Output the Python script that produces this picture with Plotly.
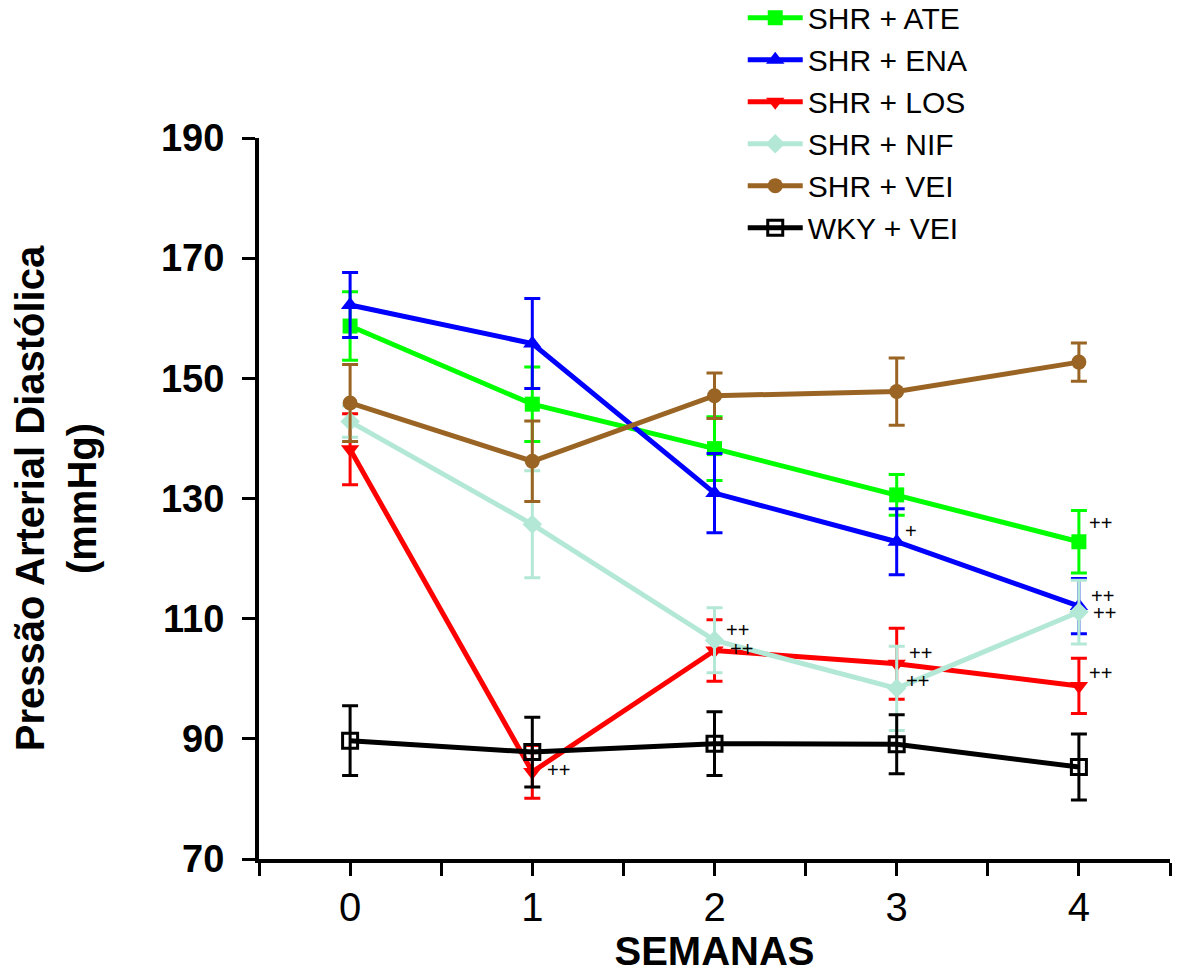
import plotly.graph_objects as go

weeks = [0, 1, 2, 3, 4]

series_names = ["SHR + ATE", "SHR + ENA", "SHR + LOS", "SHR + NIF", "SHR + VEI", "WKY + VEI"]

ate_mean = [158.7, 145.7, 138.3, 130.6, 122.8]
ate_err = [5.7, 6.2, 5.3, 3.4, 5.2]

ena_mean = [162.2, 155.8, 130.9, 122.8, 112.1]
ena_err = [5.4, 7.5, 6.6, 5.5, 4.6]

los_mean = [138.2, 84.5, 104.7, 102.5, 98.8]
los_err = [5.9, 4.4, 5.1, 5.9, 4.6]

nif_mean = [142.8, 125.7, 106.4, 98.4, 111.1]
nif_err = [2.6, 8.9, 5.4, 7.0, 5.3]

vei_mean = [145.9, 136.2, 147.1, 147.8, 152.7]
vei_err = [6.4, 6.7, 3.8, 5.6, 3.2]

wky_mean = [89.7, 87.8, 89.2, 89.1, 85.3]
wky_err = [5.8, 5.8, 5.3, 4.9, 5.5]

y_ticks = [70, 90, 110, 130, 150, 170, 190]
x_tickvals = [-0.5, 0, 0.5, 1, 1.5, 2, 2.5, 3, 3.5, 4, 4.5]
x_ticktext = ["", "0", "", "1", "", "2", "", "3", "", "4", ""]

# significance marks: (week, y value, text)
sig_marks = [
    (4, 126.0, "++"),
    (4, 113.7, "++"),
    (4, 111.0, "++"),
    (4, 100.9, "++"),
    (2, 108.1, "++"),
    (2, 105.0, "++"),
    (3, 104.3, "++"),
    (3, 99.7, "++"),
    (3, 124.6, "+"),
    (1, 84.8, "++"),
]
sig_shift = [8, 10, 12, 8, 9, 13, 10, 7, 6, 13]

styles = [
    dict(color="#00FF00", symbol="square", size=15, lw=5),
    dict(color="#0000FF", symbol="triangle-up", size=16, lw=5),
    dict(color="#FF0000", symbol="triangle-down", size=16, lw=5),
    dict(color="#B4E8D6", symbol="diamond", size=15, lw=5),
    dict(color="#9A6524", symbol="circle", size=15, lw=5),
    dict(color="#000000", symbol="square-open", size=15, lw=5),
]

means = [ate_mean, ena_mean, los_mean, nif_mean, vei_mean, wky_mean]
errs = [ate_err, ena_err, los_err, nif_err, vei_err, wky_err]

fig = go.Figure()
for name, m, e, st in zip(series_names, means, errs, styles):
    marker = dict(symbol=st["symbol"], size=st["size"], color=st["color"])
    if st["symbol"] == "square-open":
        marker["line"] = dict(color=st["color"], width=3)
    fig.add_trace(go.Scatter(
        x=weeks, y=m, name=name, mode="lines+markers",
        line=dict(color=st["color"], width=st["lw"]),
        marker=marker,
        error_y=dict(type="data", array=e, visible=True, color=st["color"],
                     thickness=3, width=8),
    ))

for (wx, wy, txt), dx in zip(sig_marks, sig_shift):
    fig.add_annotation(x=wx, y=wy, text=txt, showarrow=False, xanchor="left",
                       yanchor="middle", xshift=dx,
                       font=dict(family="Liberation Sans, Arial", size=20, color="black"))

fig.update_layout(
    width=1177, height=975,
    margin=dict(l=259, r=7, t=138, b=116, autoexpand=False),
    plot_bgcolor="white", paper_bgcolor="white",
    font=dict(family="Liberation Sans, Arial", color="black"),
    showlegend=True,
    legend=dict(x=0.531, y=1.203, xanchor="left", yanchor="top",
                font=dict(size=30, family="Liberation Sans, Arial", color="black"),
                bgcolor="rgba(0,0,0,0)", itemwidth=55),
    xaxis=dict(range=[-0.5, 4.5], tickmode="array", tickvals=x_tickvals,
               ticktext=x_ticktext, showgrid=False, zeroline=False, automargin=False,
               showline=True, linecolor="black", linewidth=4,
               ticks="outside", ticklen=13, tickwidth=3, tickcolor="black",
               ticklabelstandoff=-3,
               tickfont=dict(family="Liberation Sans Narrow, Arial Narrow, Liberation Sans", size=40),
               title=dict(text="<b>SEMANAS</b>", standoff=10,
                          font=dict(family="Liberation Sans Narrow, Arial Narrow, Liberation Sans", size=40))),
    yaxis=dict(range=[70, 190], tickmode="array", tickvals=y_ticks,
               showgrid=False, zeroline=False, automargin=False,
               showline=True, linecolor="black", linewidth=4,
               ticks="outside", ticklen=13, tickwidth=3, tickcolor="black",
               ticklabelstandoff=10,
               tickfont=dict(family="Liberation Sans, Arial", size=38, weight="bold"),
               title=dict(text="<b>Pressão Arterial Diastólica<br>(mmHg)</b>", standoff=53,
                          font=dict(family="Liberation Sans, Arial", size=40))),
)

fig.write_html("out.html")
